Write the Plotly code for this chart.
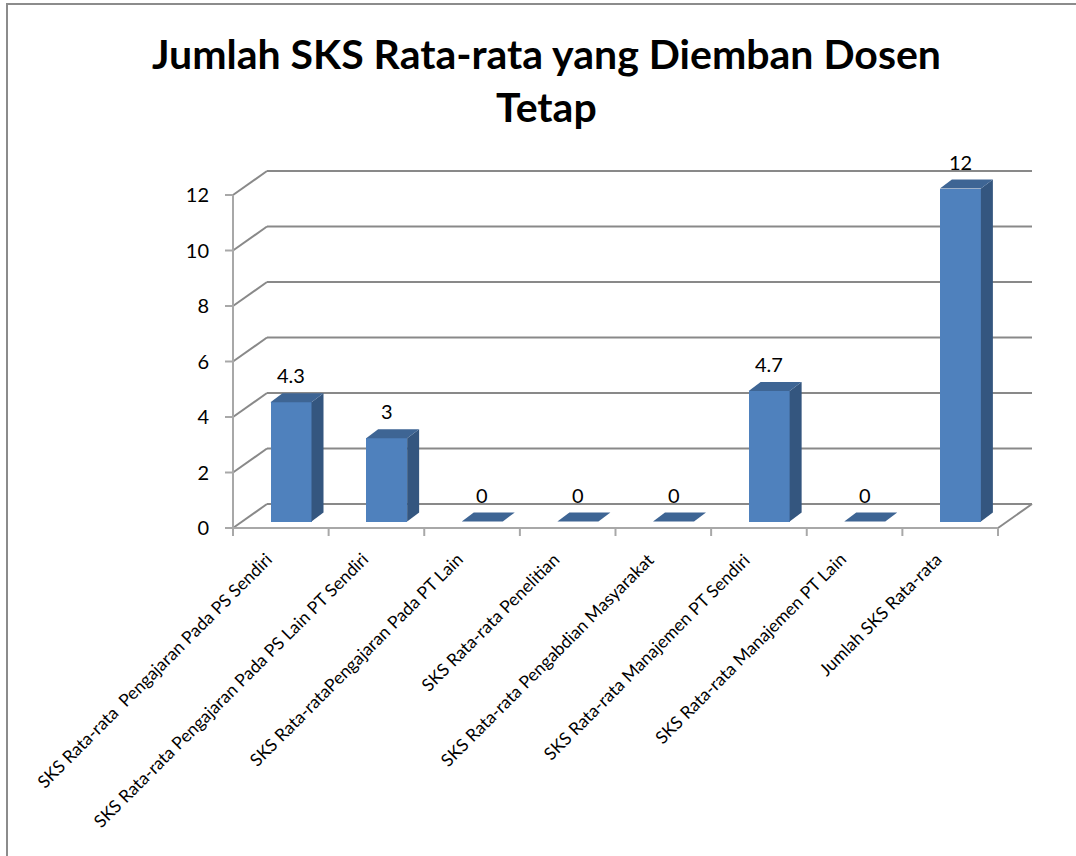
import plotly.graph_objects as go

# ---------------- data ----------------
categories = [
    "SKS Rata-rata\u00a0 Pengajaran Pada PS Sendiri",
    "SKS Rata-rata Pengajaran Pada PS Lain PT Sendiri",
    "SKS Rata-rataPengajaran Pada PT Lain",
    "SKS Rata-rata Penelitian",
    "SKS Rata-rata Pengabdian Masyarakat",
    "SKS Rata-rata Manajemen PT Sendiri",
    "SKS Rata-rata Manajemen PT Lain",
    "Jumlah SKS Rata-rata",
]
values = [4.3, 3, 0, 0, 0, 4.7, 0, 12]
value_labels = ["4.3", "3", "0", "0", "0", "4.7", "0", "12"]
y_ticks = [0, 2, 4, 6, 8, 10, 12]
title_lines = ["Jumlah SKS Rata-rata yang Diemban Dosen", "Tetap"]

# ---------------- layout geometry (pixels) ----------------
W, H = 1076, 856
PLOT_L, PLOT_R, PLOT_T, PLOT_B = 222, 1040, 165, 540
X0_PX, XSTEP = 233.0, 95.625     # pixel of x=-0.5, px per category
Y0_PX, YSTEP = 528.0, 27.75      # pixel of y=0, px per unit

def dx(px):
    return px / XSTEP

def dy(px):
    return px / YSTEP

n = len(categories)
x_lo = -0.5 - dx(X0_PX - PLOT_L)
x_hi = -0.5 + dx(PLOT_R - X0_PX)
y_lo = -dy(PLOT_B - Y0_PX)
y_hi = dy(Y0_PX - PLOT_T)

BACK_DX, BACK_DY = dx(34), dy(24)      # depth of the 3D box
BAR_DX, BAR_DY = dx(10.2), dy(6.5)     # bar plane offset from the front
BAR_W = dx(41)
DEP_DX, DEP_DY = dx(12), dy(9)         # bar depth

FRONT = "#4F81BD"
SIDE = "#34567F"
TOP = "#3E6594"
GRID = "#898989"
AXIS = "#A8A8A8"
FONT = "Lato"

pw, ph = PLOT_R - PLOT_L, PLOT_B - PLOT_T

fig = go.Figure()

# front faces of the bars
fig.add_trace(go.Bar(
    x=list(range(n)), y=values, base=BAR_DY, width=BAR_W,
    offset=BAR_DX - BAR_W / 2,
    marker=dict(color=FRONT, line=dict(width=0)),
    hoverinfo="skip", showlegend=False,
))

# side and top faces
for i, v in enumerate(values):
    xl = i + BAR_DX - BAR_W / 2
    xr = i + BAR_DX + BAR_W / 2
    b = BAR_DY
    if v > 0:
        fig.add_trace(go.Scatter(
            x=[xr, xr + DEP_DX, xr + DEP_DX, xr, xr],
            y=[b, b + DEP_DY, b + v + DEP_DY, b + v, b],
            fill="toself", fillcolor=SIDE, mode="lines",
            line=dict(width=0, color=SIDE), hoverinfo="skip", showlegend=False,
        ))
    fig.add_trace(go.Scatter(
        x=[xl, xr, xr + DEP_DX, xl + DEP_DX, xl],
        y=[b + v, b + v, b + v + DEP_DY, b + v + DEP_DY, b + v],
        fill="toself", fillcolor=TOP, mode="lines",
        line=dict(width=0, color=TOP), hoverinfo="skip", showlegend=False,
    ))

shapes = []
# back wall + side wall gridlines
for t in y_ticks:
    shapes.append(dict(type="line", xref="x", yref="y", layer="below",
                       x0=-0.5 + BACK_DX, x1=n - 0.5 + BACK_DX,
                       y0=t + BACK_DY, y1=t + BACK_DY,
                       line=dict(color=GRID, width=2)))
    shapes.append(dict(type="line", xref="x", yref="y", layer="below",
                       x0=-0.5, x1=-0.5 + BACK_DX, y0=t, y1=t + BACK_DY,
                       line=dict(color=GRID, width=2)))
# floor right edge
shapes.append(dict(type="line", xref="x", yref="y", layer="below",
                   x0=n - 0.5, x1=n - 0.5 + BACK_DX, y0=0, y1=BACK_DY,
                   line=dict(color=GRID, width=2)))
# front axes
shapes.append(dict(type="line", xref="x", yref="y", layer="below",
                   x0=-0.5, x1=-0.5, y0=0, y1=max(y_ticks),
                   line=dict(color=AXIS, width=2)))
shapes.append(dict(type="line", xref="x", yref="y", layer="below",
                   x0=-0.5, x1=n - 0.5, y0=0, y1=0,
                   line=dict(color=AXIS, width=2)))
for t in y_ticks:
    shapes.append(dict(type="line", xref="x", yref="y", layer="below",
                       x0=-0.5 - dx(8), x1=-0.5, y0=t, y1=t,
                       line=dict(color=AXIS, width=2)))
for k in range(n + 1):
    shapes.append(dict(type="line", xref="x", yref="y", layer="below",
                       x0=k - 0.5, x1=k - 0.5, y0=0, y1=-dy(8),
                       line=dict(color=AXIS, width=2)))

# chart border
shapes.append(dict(type="rect", xref="paper", yref="paper", layer="above",
                   x0=(7 - PLOT_L) / pw, x1=(W + 20 - PLOT_L) / pw,
                   y0=(PLOT_B - (H + 20)) / ph, y1=(PLOT_B - 4) / ph,
                   line=dict(color="#8C8C8C", width=2), fillcolor="rgba(0,0,0,0)"))

annotations = []
# data labels
for i, (v, lab) in enumerate(zip(values, value_labels)):
    annotations.append(dict(
        x=i + BAR_DX, y=v + BAR_DY, xref="x", yref="y", text=lab,
        showarrow=False, yanchor="bottom", xanchor="center", yshift=13,
        font=dict(family=FONT, size=20, color="#000000"),
    ))

# category labels (rotated)
LABEL_TOP_PX = 546
for i, cat in enumerate(categories):
    annotations.append(dict(
        x=i, y=(PLOT_B - LABEL_TOP_PX) / ph, xref="x", yref="paper", text=cat,
        showarrow=False, textangle=-45, xanchor="right", yanchor="top",
        xshift=-2, font=dict(family=FONT, size=17.5, color="#000000"),
    ))

# title
title_cx = 546
for line, cy in zip(title_lines, [54, 107]):
    annotations.append(dict(
        x=(title_cx - PLOT_L) / pw, y=(PLOT_B - cy) / ph, xref="paper", yref="paper",
        text="<b>%s</b>" % line, showarrow=False, xanchor="center", yanchor="middle",
        font=dict(family=FONT, size=41, color="#000000"),
    ))

fig.update_layout(
    width=W, height=H, autosize=False,
    template="none",
    paper_bgcolor="white", plot_bgcolor="rgba(0,0,0,0)",
    margin=dict(l=PLOT_L, r=W - PLOT_R, t=PLOT_T, b=H - PLOT_B, pad=0),
    showlegend=False,
    shapes=shapes,
    annotations=annotations,
    font=dict(family=FONT, color="#000000"),
    xaxis=dict(
        range=[x_lo, x_hi], showticklabels=False, ticks="", showgrid=False,
        zeroline=False, showline=False, fixedrange=True,
    ),
    yaxis=dict(
        range=[y_lo, y_hi], tickmode="array", tickvals=y_ticks,
        ticks="", showgrid=False, zeroline=False, showline=False,
        ticklabelstandoff=12,
        tickfont=dict(family=FONT, size=20, color="#000000"), fixedrange=True,
    ),
    bargap=0,
)

fig.write_html(
    "out.html",
    config={"displayModeBar": False, "staticPlot": True},
    post_script="document.body.style.margin='0';document.body.style.padding='0';",
)
